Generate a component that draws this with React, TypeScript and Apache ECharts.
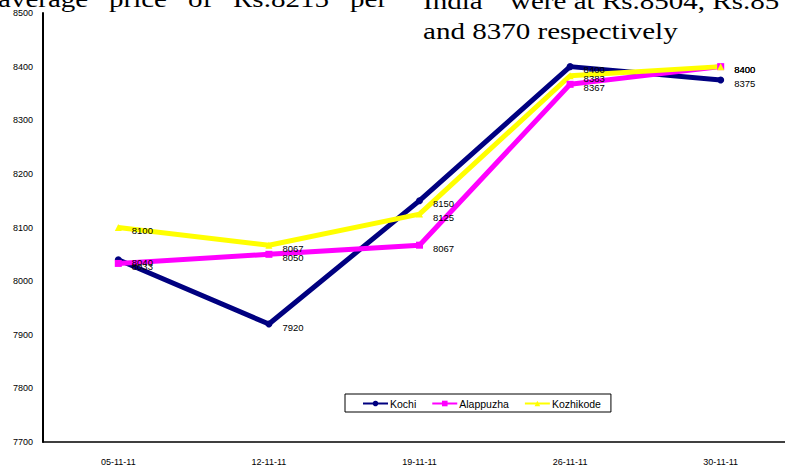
import React, { useEffect, useRef } from "react";
import * as echarts from "echarts";

const categories = ["05-11-11", "12-11-11", "19-11-11", "26-11-11", "30-11-11"];
const kochi = [8040, 7920, 8150, 8400, 8375];
const alappuzha = [8033, 8050, 8067, 8367, 8400];
const kozhikode = [8100, 8067, 8125, 8383, 8400];
const yMin = 7700;
const yMax = 8500;
const yStep = 100;

const bgLeftWords = ["average", "price", "of", "Rs.8215", "per"];
const bgLeftX = [-2, 109, 188, 233, 350];
const bgRight1 = "India\u201D  were at Rs.8504, Rs.85";
const bgRight2 = "and 8370 respectively";

export default function App() {
  const ref = useRef<HTMLDivElement>(null);
  useEffect(() => {
    document.body.style.margin = "0";
    const chart = echarts.init(ref.current!, null, { renderer: "svg" });
    const labelStyle = {
      show: true,
      position: "right" as const,
      distance: 10,
      offset: [0, 3],
      color: "#000",
      fontSize: 9.5,
      fontFamily: "Liberation Sans",
    };
    const mk = (name: string, data: number[], color: string, symbol: string) => ({
      name,
      type: "line",
      data,
      symbol,
      symbolSize: 7,
      lineStyle: { color, width: 5 },
      itemStyle: { color },
      label: labelStyle,
    });
    const serif = '"Liberation Serif", "Times New Roman", serif';
    const bgText = (text: string, x: number, y: number) => ({
      type: "text",
      x,
      y,
      scaleX: 1.21,
      z: -10,
      style: { text, fontSize: 24, fontFamily: serif, fill: "#000", verticalAlign: "bottom" },
    });
    chart.setOption({
      animation: false,
      backgroundColor: "#fff",
      graphic: [
        ...bgLeftWords.map((w, i) => bgText(w, bgLeftX[i], 11)),
        bgText(bgRight1, 423, 13),
        bgText(bgRight2, 423, 43),
      ],
      grid: {
        left: 43,
        top: 13,
        width: 753,
        height: 429,
        containLabel: false,
        outerBoundsMode: "none",
      },
      legend: {
        left: 345,
        top: 394,
        orient: "horizontal",
        padding: [4, 10, 3, 17],
        itemGap: 15,
        itemWidth: 25,
        itemHeight: 7,
        borderColor: "#000",
        borderWidth: 1,
        backgroundColor: "#fff",
        textStyle: { fontSize: 10.5, fontFamily: "Liberation Sans", color: "#000", padding: [0, 0, 0, -3] },
        data: ["Kochi", "Alappuzha", "Kozhikode"],
      },
      xAxis: {
        type: "category",
        data: categories,
        boundaryGap: true,
        axisLine: { lineStyle: { color: "#000", width: 1.5 } },
        axisTick: { show: false },
        axisLabel: { color: "#000", fontSize: 9, fontFamily: "Liberation Sans", margin: 15 },
        splitLine: { show: false },
      },
      yAxis: {
        type: "value",
        min: yMin,
        max: yMax,
        interval: yStep,
        axisLine: { show: true, lineStyle: { color: "#000", width: 2 } },
        axisTick: { show: false },
        axisLabel: {
          color: "#000",
          fontSize: 9,
          fontFamily: "Liberation Sans",
          margin: 10,
          formatter: (v: number) => String(v),
        },
        splitLine: { show: false },
      },
      series: [
        mk("Kochi", kochi, "#000080", "circle"),
        mk("Alappuzha", alappuzha, "#FF00FF", "rect"),
        mk("Kozhikode", kozhikode, "#FFFF00", "triangle"),
      ],
    });
    return () => chart.dispose();
  }, []);
  return <div ref={ref} style={{ width: 785, height: 467 }} />;
}
